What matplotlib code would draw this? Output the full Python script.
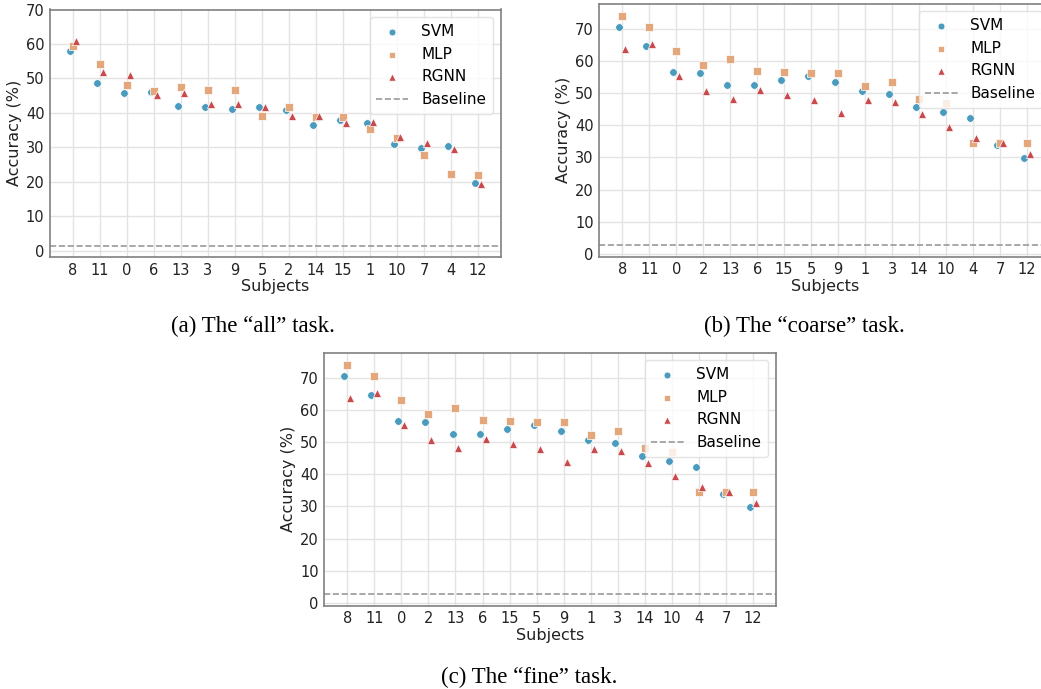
import numpy as np
import matplotlib
matplotlib.use('Agg')
import matplotlib.pyplot as plt

plt.rcParams['font.family'] = ['DejaVu Sans']

# ---- data ----
subj_all = ['8', '11', '0', '6', '13', '3', '9', '5', '2', '14', '15', '1', '10', '7', '4', '12']
svm_all = [57.9, 48.6, 45.8, 46.0, 42.0, 41.6, 41.0, 41.8, 40.8, 36.6, 37.9, 37.0, 30.9, 29.7, 30.3, 19.8]
mlp_all = [59.3, 54.1, 48.1, 46.5, 47.4, 46.6, 46.6, 39.0, 41.8, 38.7, 38.7, 35.4, 32.7, 27.8, 22.3, 22.1]
rgnn_all = [60.8, 51.9, 51.0, 45.2, 45.7, 42.5, 42.7, 41.7, 39.2, 39.1, 37.1, 37.4, 33.1, 31.2, 29.6, 19.4]
base_all = 1.4

subj_coarse = ['8', '11', '0', '2', '13', '6', '15', '5', '9', '1', '3', '14', '10', '4', '7', '12']
svm_coarse = [70.5, 64.6, 56.6, 56.1, 52.5, 52.6, 54.1, 55.2, 53.3, 50.6, 49.8, 45.6, 44.0, 42.1, 33.7, 29.9]
mlp_coarse = [74.1, 70.7, 63.0, 58.8, 60.6, 57.0, 56.7, 56.3, 56.2, 52.1, 53.4, 48.0, 46.9, 34.4, 34.5, 34.5]
rgnn_coarse = [63.8, 65.3, 55.2, 50.6, 48.2, 50.8, 49.5, 47.9, 43.8, 47.9, 47.1, 43.4, 39.6, 36.0, 34.4, 31.0]
base_coarse = 2.8

subj_fine = subj_coarse
svm_fine = svm_coarse
mlp_fine = mlp_coarse
rgnn_fine = rgnn_coarse
base_fine = 2.8

c_svm = '#4a9bbd'
c_mlp = '#e3a77b'
c_rgnn = '#c94a4c'

W, H = 1041, 689
fig = plt.figure(figsize=(W / 100, H / 100), dpi=100)


def make_axes(left, top, right, bottom):
    return fig.add_axes([left / W, 1 - bottom / H, (right - left) / W, (bottom - top) / H])


def panel(ax, subj, svm, mlp, rgnn, base, ylim):
    x = np.arange(len(subj))
    ax.set_axisbelow(True)
    ax.grid(True, color='#e3e3e3', linewidth=1)
    ax.scatter(x - 0.11, svm, s=30, marker='o', color=c_svm, edgecolor='white', linewidth=0.5, label='SVM', zorder=3)
    ax.scatter(x, mlp, s=30, marker='s', color=c_mlp, edgecolor='white', linewidth=0.5, label='MLP', zorder=3)
    ax.scatter(x + 0.11, rgnn, s=34, marker='^', color=c_rgnn, edgecolor='white', linewidth=0.5, label='RGNN', zorder=3)
    ax.axhline(base, color='#999999', linestyle='--', linewidth=1.2, label='Baseline', zorder=2)
    ax.set_xticks(x)
    ax.set_xticklabels(subj)
    ax.set_yticks(np.arange(0, 71, 10))
    ax.set_xlim(-0.85, len(subj) - 0.15)
    ax.set_ylim(*ylim)
    ax.tick_params(labelsize=10.5, length=0, pad=4, colors='#222222')
    for sp in ax.spines.values():
        sp.set_color('#808080')
        sp.set_linewidth(1.2)
    ax.set_xlabel('Subjects', fontsize=11.5, labelpad=1, color='#222222')
    ax.set_ylabel('Accuracy (%)', fontsize=11.5, labelpad=3, color='#222222')
    ax.legend(loc='upper right', fontsize=11, markerscale=0.9, handlelength=2.1,
              handletextpad=0.85, borderpad=0.45, labelspacing=0.5, edgecolor='#dddddd')


ax1 = make_axes(50, 9.5, 501, 257)
panel(ax1, subj_all, svm_all, mlp_all, rgnn_all, base_all, (-1.8, 70))

ax2 = make_axes(599.3, 3.7, 1050, 256.7)
panel(ax2, subj_coarse, svm_coarse, mlp_coarse, rgnn_coarse, base_coarse, (-0.9, 77.8))

ax3 = make_axes(324.3, 352.7, 776, 605.7)
panel(ax3, subj_fine, svm_fine, mlp_fine, rgnn_fine, base_fine, (-0.9, 77.8))

cap = dict(fontsize=16.5, family='Liberation Serif', ha='center', va='center', color='black')
fig.text(253 / W, 1 - 326 / H, '(a) The \u201call\u201d task.', **cap)
fig.text(804 / W, 1 - 326 / H, '(b) The \u201ccoarse\u201d task.', **cap)
fig.text(529 / W, 1 - 677 / H, '(c) The \u201cfine\u201d task.', **cap)

fig.savefig('out.png', dpi=100)
